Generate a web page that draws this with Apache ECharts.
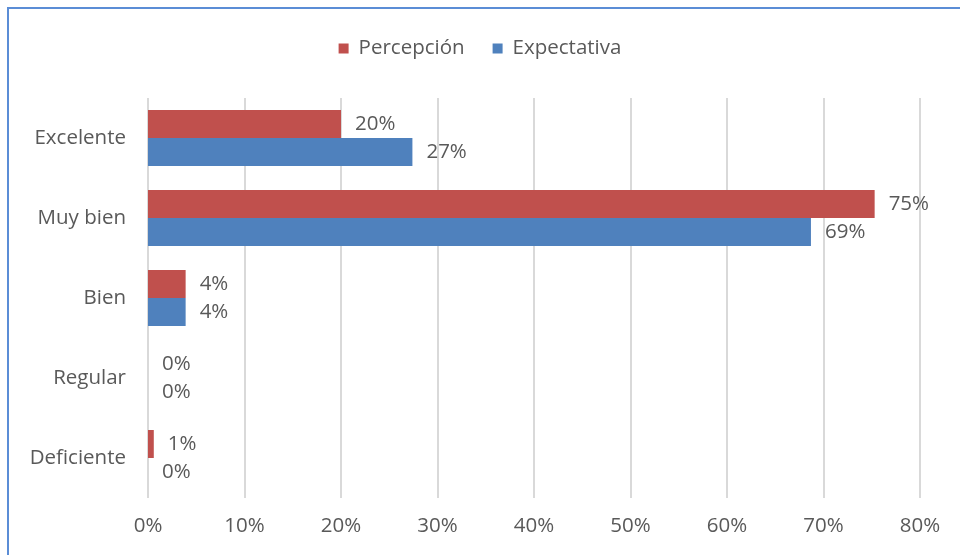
<!DOCTYPE html>
<html><head><meta charset="utf-8">
<script src="https://cdn.jsdelivr.net/npm/echarts@6/dist/echarts.min.js"></script>
<style>
html,body{margin:0;padding:0;background:#fff;overflow:hidden}
#frame{position:absolute;left:7px;top:7px;width:1000px;height:600px;border-left:2px solid #5B8DD6;border-top:2px solid #5B8DD6;box-sizing:border-box}
#c{position:absolute;left:0;top:0;width:960px;height:555px}
</style></head>
<body>
<div id="frame"></div>
<div id="c"></div>
<script>
const categories = ['Excelente', 'Muy bien', 'Bien', 'Regular', 'Deficiente'];
const percepcion = [20, 75.3, 3.9, 0, 0.6];
const expectativa = [27.4, 68.7, 3.9, 0, 0];
const xTicks = [0, 10, 20, 30, 40, 50, 60, 70, 80];

const chart = echarts.init(document.getElementById('c'), null, {renderer: 'canvas'});
const font = 'Open Sans';
const txt = '#595959';
const fs = 20.5;
const lbl = {
  show: true, position: 'right', distance: 14,
  color: txt, fontFamily: font, fontSize: fs,
  padding: [3, 0, 0, 0],
  formatter: p => Math.round(p.value) + '%'
};
chart.setOption({
  animation: false,
  legend: {
    top: 33, left: 'center', itemWidth: 10, itemHeight: 10, itemGap: 28,
    icon: 'rect',
    textStyle: {color: txt, fontFamily: font, fontSize: fs, padding: [0, 0, 0, 5]},
    data: ['Percepción', 'Expectativa']
  },
  grid: {left: 148, right: 40, top: 98, bottom: 57, containLabel: false},
  xAxis: {
    type: 'value', min: xTicks[0], max: xTicks[xTicks.length - 1], interval: 10,
    axisLine: {show: false}, axisTick: {show: false},
    splitLine: {lineStyle: {color: '#d9d9d9', width: 2}},
    axisLabel: {color: txt, fontFamily: font, fontSize: fs, margin: 18, formatter: v => v + '%'}
  },
  yAxis: {
    type: 'category', data: categories, inverse: true,
    axisLine: {show: false}, axisTick: {show: false},
    axisLabel: {color: txt, fontFamily: font, fontSize: fs, margin: 22}
  },
  series: [
    {name: 'Percepción', type: 'bar', data: percepcion, barGap: '0%', barCategoryGap: '30%',
     itemStyle: {color: '#C0504D'}, label: lbl},
    {name: 'Expectativa', type: 'bar', data: expectativa, barGap: '0%', barCategoryGap: '30%',
     itemStyle: {color: '#4F81BD'}, label: lbl}
  ]
});
</script>
</body></html>
